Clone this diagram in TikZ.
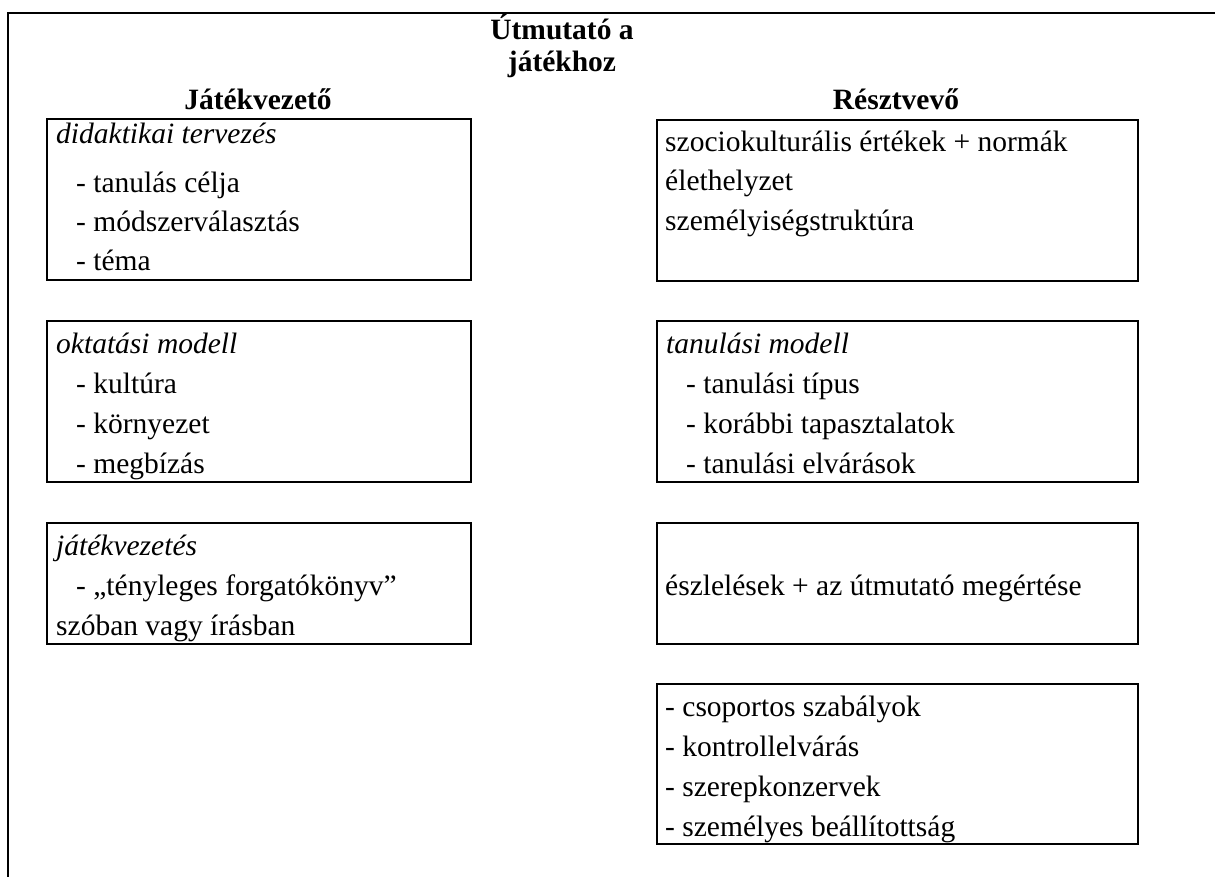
\documentclass[tikz,border=0pt]{standalone}
\usepackage{fontspec}
\setmainfont{Liberation Serif}
\begin{document}
\begin{tikzpicture}[x=1pt,y=-1pt,
  box/.style={draw, line width=1.8pt, anchor=north west, inner sep=0pt},
  txt/.style={anchor=base west, inner sep=0pt, font=\fontsize{29.5}{40}\selectfont},
  head/.style={anchor=base, inner sep=0pt, font=\fontsize{29.5}{40}\selectfont\bfseries}]
\useasboundingbox (0,0) rectangle (1215,877);
% outer frame (top and left)
\coordinate (fbl) at (8,877);
\coordinate (ftl) at (8,13);
\coordinate (ftr) at (1215,13);
\draw[line width=1.8pt] (fbl) -- (ftl) -- (ftr);
% headings
\node[head] (t1) at (562,40) {Útmutató a};
\node[head] (t2) at (562,72) {játékhoz};
\node[head] (hl) at (258,110) {Játékvezető};
\node[head] (hr) at (896,110) {Résztvevő};
% left boxes
\node[box, minimum width=424pt, minimum height=161pt] (L1) at (46,118) {};
\node[box, minimum width=424pt, minimum height=161pt] (L2) at (46,320) {};
\node[box, minimum width=424pt, minimum height=121pt] (L3) at (46,522) {};
% right boxes
\node[box, minimum width=481pt, minimum height=161pt] (R1) at (656,119) {};
\node[box, minimum width=481pt, minimum height=161pt] (R2) at (656,320) {};
\node[box, minimum width=481pt, minimum height=121pt] (R3) at (656,522) {};
\node[box, minimum width=481pt, minimum height=160pt] (R4) at (656,683) {};
% L1 text
\node[txt] (l1a) at (56,144) {\textit{didaktikai tervezés}};
\node[txt] (l1b) at (76,193) {- tanulás célja};
\node[txt] (l1c) at (76,232) {- módszerválasztás};
\node[txt] (l1d) at (76,271) {- téma};
% L2 text
\node[txt] (l2a) at (56,353) {\textit{oktatási modell}};
\node[txt] (l2b) at (76,393) {- kultúra};
\node[txt] (l2c) at (76,433) {- környezet};
\node[txt] (l2d) at (76,473) {- megbízás};
% L3 text
\node[txt] (l3a) at (56,555) {\textit{játékvezetés}};
\node[txt] (l3b) at (76,595) {- „tényleges forgatókönyv”};
\node[txt] (l3c) at (56,635) {szóban vagy írásban};
% R1 text
\node[txt] (r1a) at (665,152) {szociokulturális értékek + normák};
\node[txt] (r1b) at (665,191) {élethelyzet};
\node[txt] (r1c) at (665,231) {személyiségstruktúra};
% R2 text
\node[txt] (r2a) at (666,353) {\textit{tanulási modell}};
\node[txt] (r2b) at (686,393) {- tanulási típus};
\node[txt] (r2c) at (686,433) {- korábbi tapasztalatok};
\node[txt] (r2d) at (686,473) {- tanulási elvárások};
% R3 text
\node[txt] (r3a) at (665,595) {észlelések + az útmutató megértése};
% R4 text
\node[txt] (r4a) at (665,716) {- csoportos szabályok};
\node[txt] (r4b) at (665,756) {- kontrollelvárás};
\node[txt] (r4c) at (665,796) {- szerepkonzervek};
\node[txt] (r4d) at (665,836) {- személyes beállítottság};
\end{tikzpicture}
\end{document}
